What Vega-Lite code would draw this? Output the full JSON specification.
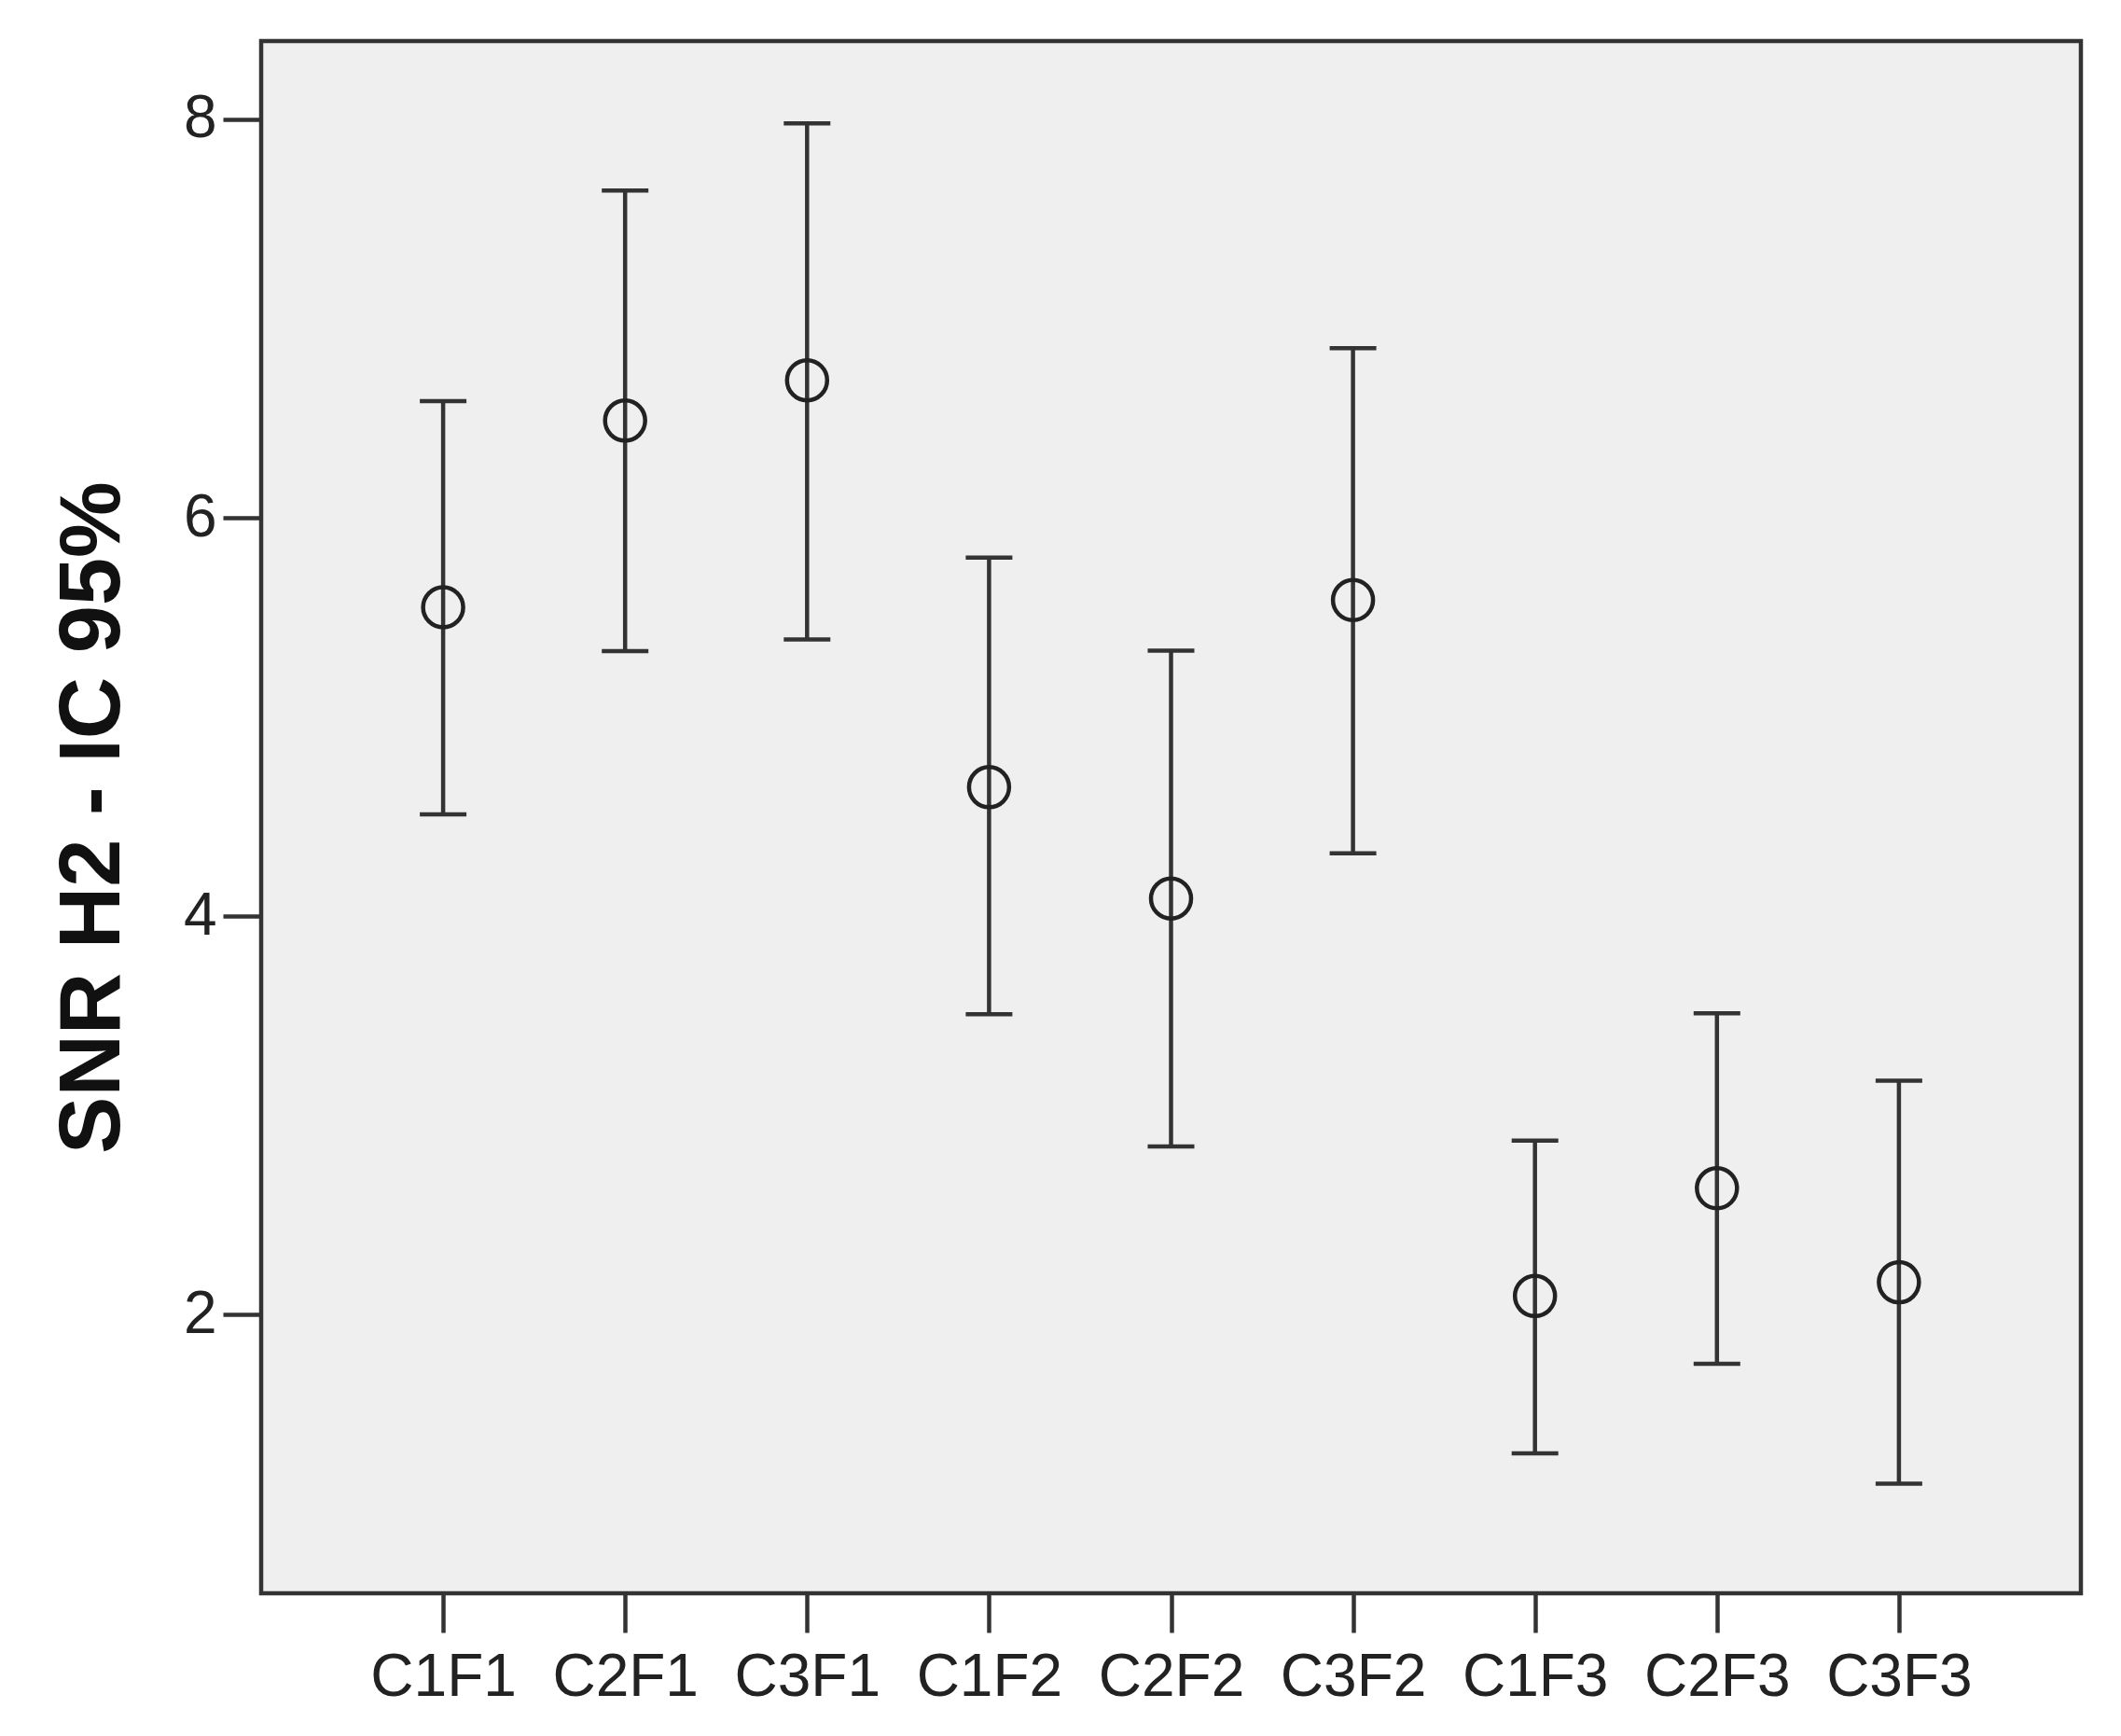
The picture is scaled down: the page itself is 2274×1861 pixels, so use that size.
{
  "$schema": "https://vega.github.io/schema/vega-lite/v6.json",
  "width": 1951,
  "height": 1664,
  "autosize": {"type": "none"},
  "padding": {"left": 280, "top": 44, "right": 43, "bottom": 153},
  "background": "white",
  "config": {
    "font": "Liberation Sans",
    "view": {"fill": "#efefef", "stroke": "#333333", "strokeWidth": 4.5},
    "axisY": {"domain": false, "grid": false, "tickSize": 41, "tickWidth": 4.5, "tickColor": "#333333", "labelFontSize": 64, "labelColor": "#222222", "labelPadding": 7, "titleFontSize": 92, "titleFontWeight": "bold", "titleColor": "#111111"},
    "axisX": {"domain": false, "grid": false, "tickSize": 42, "tickWidth": 4.5, "tickColor": "#333333", "labelFontSize": 64, "labelColor": "#222222", "labelPadding": 16, "labelAngle": 0}
  },
  "data": {"values": [
    {"group": "C1F1", "mean": 5.551, "lower": 4.511, "upper": 6.586},
    {"group": "C2F1", "mean": 6.488, "lower": 5.331, "upper": 7.643},
    {"group": "C3F1", "mean": 6.69, "lower": 5.39, "upper": 7.98},
    {"group": "C1F2", "mean": 4.648, "lower": 3.508, "upper": 5.8},
    {"group": "C2F2", "mean": 4.089, "lower": 2.845, "upper": 5.333},
    {"group": "C3F2", "mean": 5.587, "lower": 4.316, "upper": 6.852},
    {"group": "C1F3", "mean": 2.094, "lower": 1.304, "upper": 2.874},
    {"group": "C2F3", "mean": 2.635, "lower": 1.754, "upper": 3.513},
    {"group": "C3F3", "mean": 2.163, "lower": 1.152, "upper": 3.175}
  ]},
  "encoding": {
    "x": {"field": "group", "type": "ordinal", "sort": null, "scale": {"type": "point", "padding": 1}, "axis": {"title": null}}
  },
  "layer": [
    {
      "mark": {"type": "rule", "color": "#333333", "strokeWidth": 4.5},
      "encoding": {
        "y": {"field": "lower", "type": "quantitative", "title": "SNR H2 - IC 95%", "scale": {"domain": [0.602, 8.393], "nice": false, "zero": false},
              "axis": {"values": [2, 4, 6, 8], "format": "d", "titleAngle": 270, "titleX": -153, "titleY": 832, "titleBaseline": "alphabetic", "titleAlign": "center"}},
        "y2": {"field": "upper"}
      }
    },
    {
      "mark": {"type": "tick", "size": 50, "thickness": 4.5, "color": "#333333", "opacity": 1},
      "encoding": {"y": {"field": "upper", "type": "quantitative", "title": "SNR H2 - IC 95%"}}
    },
    {
      "mark": {"type": "tick", "size": 50, "thickness": 4.5, "color": "#333333", "opacity": 1},
      "encoding": {"y": {"field": "lower", "type": "quantitative", "title": "SNR H2 - IC 95%"}}
    },
    {
      "mark": {"type": "point", "shape": "circle", "filled": false, "size": 1849, "stroke": "#222222", "strokeWidth": 4.5, "opacity": 1},
      "encoding": {"y": {"field": "mean", "type": "quantitative", "title": "SNR H2 - IC 95%"}}
    }
  ]
}
